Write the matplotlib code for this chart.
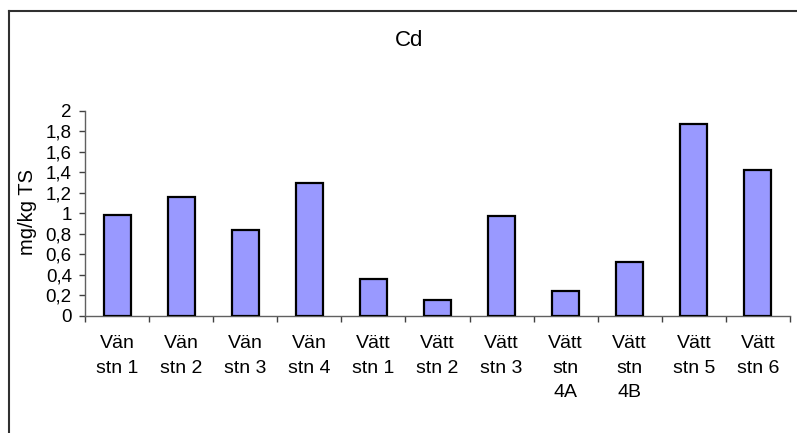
import matplotlib
matplotlib.use("Agg")
import matplotlib.pyplot as plt
from matplotlib.lines import Line2D
import numpy as np

plt.rcParams['font.family'] = ['Liberation Sans', 'DejaVu Sans']

categories = ["Vän\nstn 1", "Vän\nstn 2", "Vän\nstn 3", "Vän\nstn 4", "Vätt\nstn 1",
              "Vätt\nstn 2", "Vätt\nstn 3", "Vätt\nstn\n4A", "Vätt\nstn\n4B",
              "Vätt\nstn 5", "Vätt\nstn 6"]
values = [0.98, 1.16, 0.84, 1.30, 0.36, 0.16, 0.97, 0.24, 0.53, 1.87, 1.42]
yticks = [0, 0.2, 0.4, 0.6, 0.8, 1.0, 1.2, 1.4, 1.6, 1.8, 2.0]
ytick_labels = ["0", "0,2", "0,4", "0,6", "0,8", "1", "1,2", "1,4", "1,6", "1,8", "2"]
title = "Cd"
ylabel = "mg/kg TS"

W, H = 797, 433
fig = plt.figure(figsize=(W / 100, H / 100), dpi=100)
ax = fig.add_axes([85 / W, 1 - 316 / H, (790 - 85) / W, (316 - 110.7) / H])

x = np.arange(len(categories))
ax.bar(x, values, width=0.42, color="#9999FF", edgecolor="black", linewidth=1.6, zorder=3)

ax.set_xlim(-0.5, len(categories) - 0.5)
ax.set_ylim(0, 2)
ax.set_yticks(yticks)
ax.set_yticklabels(ytick_labels, fontsize=13.5)

ax.set_xticks(np.arange(len(categories) + 1) - 0.5)
ax.set_xticklabels([])
ax.set_xticks(x, minor=True)
ax.set_xticklabels(categories, minor=True, fontsize=14, linespacing=1.55, va="top")
ax.tick_params(axis="x", which="minor", length=0, pad=14)
ax.tick_params(axis="x", which="major", length=4.5, width=1, color="#404040", direction="out")
ax.tick_params(axis="y", length=4.5, width=1, color="#404040", direction="out", pad=5)

for s in ["top", "right"]:
    ax.spines[s].set_visible(False)
for s in ["left", "bottom"]:
    ax.spines[s].set_color("#606060")
    ax.spines[s].set_linewidth(1)

ax.set_ylabel(ylabel, fontsize=14.5)
ax.yaxis.set_label_coords(-(85 - 37) / (790 - 85), (316 - 212) / (316 - 110.7))

fig.text(409 / W, 1 - 40 / H, title, ha="center", va="center", fontsize=16)

# chart frame (left and top edges)
fig.add_artist(Line2D([8.5 / W, 8.5 / W], [0, 1 - 10.5 / H], transform=fig.transFigure,
                      color="#303030", linewidth=1.5))
fig.add_artist(Line2D([8.5 / W, 1], [1 - 10.5 / H, 1 - 10.5 / H], transform=fig.transFigure,
                      color="#303030", linewidth=1.5))

fig.savefig("out.png", dpi=100)
